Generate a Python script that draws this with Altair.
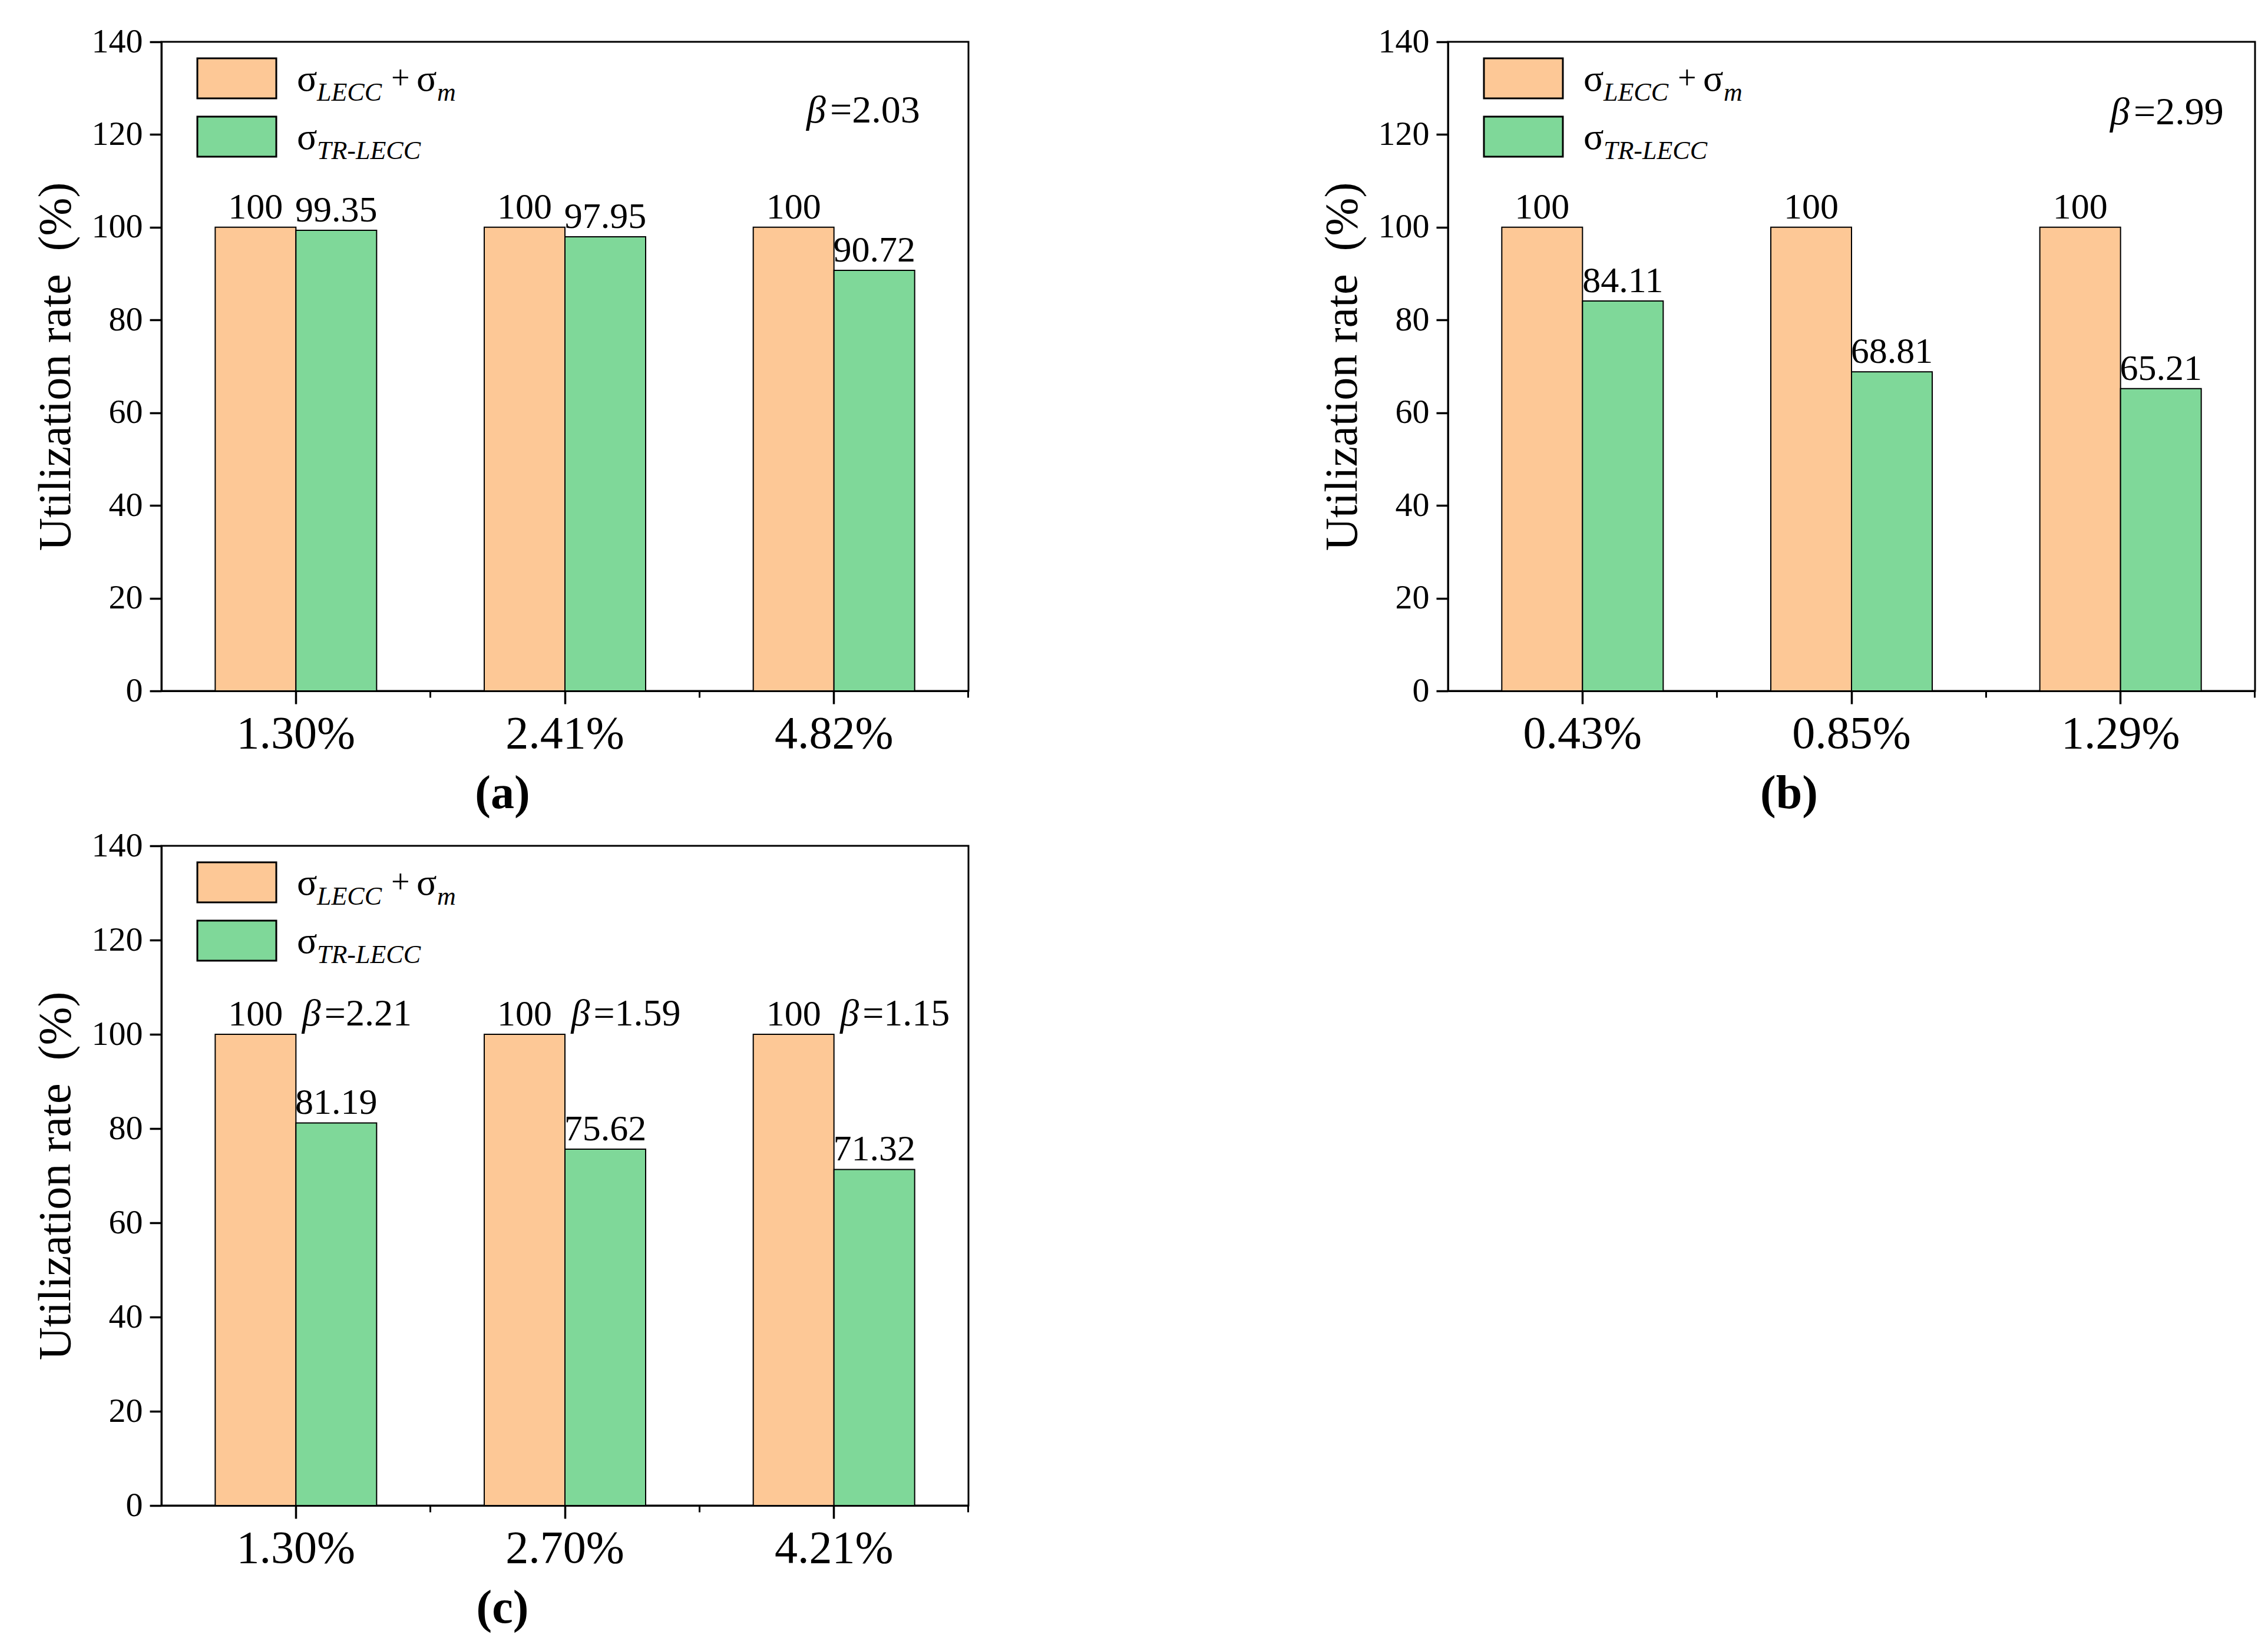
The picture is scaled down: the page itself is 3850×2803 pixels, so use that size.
import altair as alt
import pandas as pd

FONT = "Liberation Serif"
SERIES = ["base", "tr"]
COLORS = ["#FDC896", "#7FD899"]

cats_a = ["1.30%", "2.41%", "4.82%"]
base_a = [100, 100, 100]
tr_a = [99.35, 97.95, 90.72]
beta_a = "2.03"

cats_b = ["0.43%", "0.85%", "1.29%"]
base_b = [100, 100, 100]
tr_b = [84.11, 68.81, 65.21]
beta_b = "2.99"

cats_c = ["1.30%", "2.70%", "4.21%"]
base_c = [100, 100, 100]
tr_c = [81.19, 75.62, 71.32]
betas_c = ["2.21", "1.59", "1.15"]

ONE = pd.DataFrame({"k": [0]})


def piece(txt, x, y, size, italic=False):
    return (
        alt.Chart(ONE)
        .mark_text(text=txt, align="left", baseline="alphabetic", font=FONT,
                   fontSize=size, fontStyle="italic" if italic else "normal",
                   color="black")
        .encode(x=alt.value(x), y=alt.value(y))
    )


def swatch(color, y0, y1):
    return (
        alt.Chart(ONE)
        .mark_rect(fill=color, stroke="black", strokeWidth=3)
        .encode(x=alt.value(61), x2=alt.value(195), y=alt.value(y0), y2=alt.value(y1))
    )


def legend():
    return [
        swatch(COLORS[0], 28, 96),
        swatch(COLORS[1], 127, 195),
        piece("σ", 230, 83, 64),
        piece("LECC", 264, 100, 44, True),
        piece("+", 390, 80, 56),
        piece("σ", 433, 83, 64),
        piece("m", 468, 100, 44, True),
        piece("σ", 230, 182, 64),
        piece("TR-LECC", 264, 199, 44, True),
    ]


def panel(cats, base, tr, tag, w, h, corner_beta=None, bar_betas=None):
    df = pd.DataFrame({
        "cat": cats * 2,
        "series": ["base"] * len(cats) + ["tr"] * len(cats),
        "value": base + tr,
        "label": [f"{v:g}" for v in base + tr],
    })
    xscale = alt.Scale(paddingInner=0.4, paddingOuter=0.2)
    x_main = alt.X("cat:N", sort=cats, title=None, scale=xscale,
                   axis=alt.Axis(labelAngle=0, labelFontSize=78, labelLimit=0,
                                 tickSize=22, tickWidth=3.5, domainWidth=3,
                                 labelPadding=12, grid=False, orient="bottom"))
    x_minor = alt.X("cat:N", sort=cats, title=None, scale=xscale,
                    axis=alt.Axis(labels=False, domain=False, tickSize=11,
                                  tickWidth=3, bandPosition=1.3333, grid=False,
                                  orient="bottom"))
    x_none = alt.X("cat:N", sort=cats, scale=xscale, axis=None)
    xo = alt.XOffset("series:N", sort=SERIES,
                     scale=alt.Scale(paddingInner=0, paddingOuter=0))
    y = alt.Y("value:Q", scale=alt.Scale(domain=[0, 140]),
              axis=alt.Axis(values=list(range(0, 141, 20)),
                            title="Utilization rate\u00a0\u00a0(%)",
                            titleFontSize=78, titlePadding=21, labelFontSize=58,
                            tickSize=20, tickWidth=3.5, domainWidth=3,
                            labelPadding=12, grid=False))
    color = alt.Color("series:N", scale=alt.Scale(domain=SERIES, range=COLORS),
                      legend=None)

    bars = alt.Chart(df).mark_bar(stroke="black", strokeWidth=2).encode(
        x=x_main, xOffset=xo, y=y, color=color)
    labels = alt.Chart(df).mark_text(
        baseline="alphabetic", dy=-15, font=FONT, fontSize=62, color="black"
    ).encode(x=x_minor, xOffset=xo, y=y, text="label:N")
    layers = [bars, labels] + legend()

    if corner_beta is not None:
        bx, by = corner_beta[1], corner_beta[2]
        layers.append(piece("β", bx, by, 66, True))
        layers.append(piece("=" + corner_beta[0], bx + 40, by, 66))

    if bar_betas is not None:
        bdf = pd.DataFrame({"cat": cats, "series": ["tr"] * len(cats),
                            "value": base, "beta": ["=" + b for b in bar_betas]})
        layers.append(
            alt.Chart(bdf).mark_text(text="β", align="left", baseline="alphabetic",
                                     dx=-58, dy=-15, font=FONT, fontSize=64,
                                     fontStyle="italic", color="black")
            .encode(x=x_none, xOffset=xo, y=y)
        )
        layers.append(
            alt.Chart(bdf).mark_text(align="left", baseline="alphabetic",
                                     dx=-20, dy=-15, font=FONT, fontSize=64,
                                     color="black")
            .encode(x=x_none, xOffset=xo, y=y, text="beta:N")
        )

    return (
        alt.layer(*layers)
        .resolve_axis(x="independent")
        .properties(
            width=w, height=h,
            title=alt.TitleParams(tag, orient="bottom", anchor="middle",
                                  frame="group", fontSize=80, font=FONT,
                                  fontWeight="bold", offset=24, dx=-106),
        )
    )


a = panel(cats_a, base_a, tr_a, "(a)", 1370, 1102, corner_beta=(beta_a, 1095, 137))
b = panel(cats_b, base_b, tr_b, "(b)", 1370, 1102, corner_beta=(beta_b, 1124, 140))
c = panel(cats_c, base_c, tr_c, "(c)", 1370, 1120, bar_betas=betas_c)

chart = (
    alt.vconcat(alt.hconcat(a, b, spacing=592), c, spacing=15)
    .properties(padding={"left": 46, "top": 32, "right": 10, "bottom": 10})
    .configure_view(stroke="black", strokeWidth=3)
    .configure_axis(labelFont=FONT, titleFont=FONT, labelColor="black",
                    titleColor="black", domainColor="black", tickColor="black",
                    titleFontWeight="normal")
    .configure_title(color="black")
)

chart.save("out.html", embed_options={"renderer": "svg", "actions": False})
